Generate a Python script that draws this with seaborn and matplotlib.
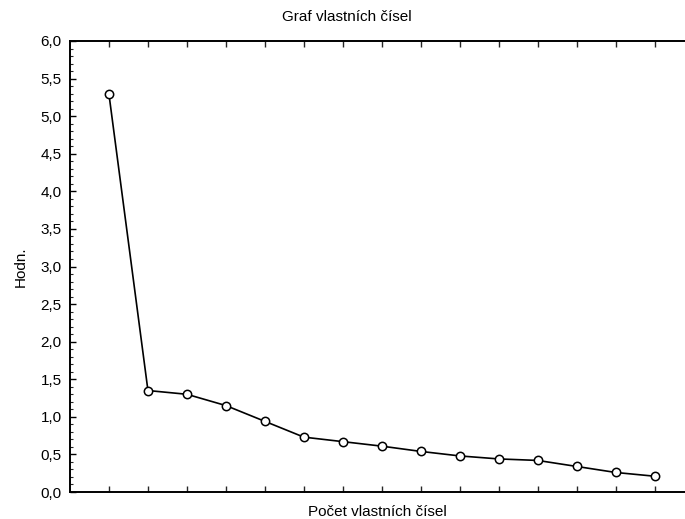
import matplotlib
matplotlib.use("Agg")
import matplotlib.pyplot as plt
import matplotlib.ticker as mticker
import seaborn as sns
import pandas as pd

# Eigenvalues in order of extraction
component = list(range(1, 16))
eigenvalue = [5.29, 1.35, 1.30, 1.15, 0.94, 0.73, 0.67, 0.61,
              0.54, 0.48, 0.44, 0.42, 0.34, 0.26, 0.21]

title = "Graf vlastních čísel"
x_label = "Počet vlastních čísel"
y_label = "Hodn."

sns.set_theme(style="white")
plt.rcParams["font.family"] = ["Liberation Sans", "DejaVu Sans"]

df = pd.DataFrame({"n": component, "value": eigenvalue})

fig = plt.figure(figsize=(6.85, 5.19), dpi=100)
ax = fig.add_axes([70 / 685, 1 - 492 / 519, 1 - 70 / 685, (492 - 41) / 519])

sns.lineplot(data=df, x="n", y="value", ax=ax, color="black", linewidth=1.2,
             marker="o", markersize=6, markerfacecolor="white",
             markeredgecolor="black", markeredgewidth=1.1)

ax.set_xlim(0, 15.78)
ax.set_ylim(0, 6)
ax.xaxis.set_major_locator(mticker.FixedLocator(component))
ax.xaxis.set_major_formatter(mticker.NullFormatter())
ax.yaxis.set_major_locator(mticker.MultipleLocator(0.5))
ax.yaxis.set_minor_locator(mticker.MultipleLocator(0.1))
ax.yaxis.set_major_formatter(mticker.FuncFormatter(lambda v, p: f"{v:.1f}".replace(".", ",")))

for s in ("left", "bottom", "top"):
    ax.spines[s].set_visible(True)
    ax.spines[s].set_linewidth(1.4)
    ax.spines[s].set_color("black")
ax.spines["right"].set_visible(False)

ax.tick_params(axis="y", which="major", direction="in", length=4, width=1,
               labelsize=11, pad=6, left=True, colors="black")
ax.tick_params(axis="y", which="minor", direction="in", length=2, width=0.8, left=True)
ax.tick_params(axis="x", which="major", direction="in", length=4, width=1,
               bottom=True, top=True)

ax.set_xlabel(x_label, fontsize=11, labelpad=6, color="black")
ax.set_ylabel(y_label, fontsize=11, labelpad=9, color="black")
fig.text(347 / 685, 1 - 17 / 519, title, ha="center", va="center",
         fontsize=11, color="black")
ax.grid(False)

fig.savefig("out.png", dpi=100)
